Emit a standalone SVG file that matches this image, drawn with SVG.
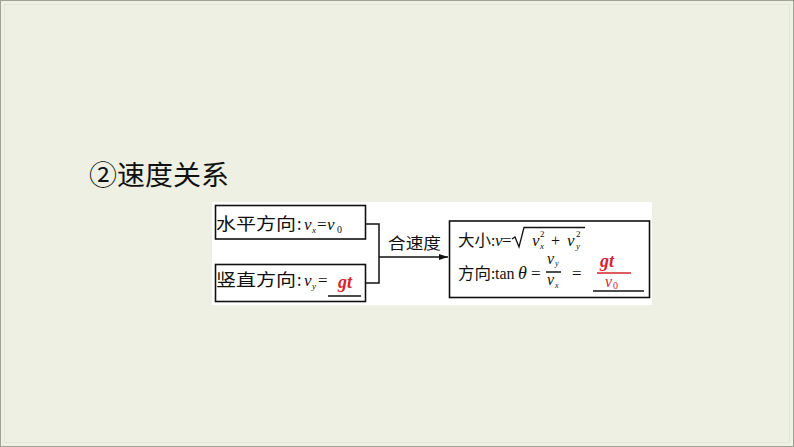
<svg xmlns="http://www.w3.org/2000/svg" width="794" height="447" viewBox="0 0 794 447">
<style>
.cn{font-family:"Noto Sans CJK SC","Noto Sans CJK JP",sans-serif;fill:#111;}
.m{font-family:"Liberation Serif","DejaVu Serif",serif;font-style:italic;fill:#111;}
.r{font-family:"Liberation Serif","DejaVu Serif",serif;fill:#111;}
.red{fill:#d9232d;}
.box{fill:#fff;stroke:#111;stroke-width:1.6;}
.ln{fill:none;stroke:#111;stroke-width:1.5;}
</style>
<defs>
<marker id="arr" markerWidth="10" markerHeight="8" refX="9" refY="4" orient="auto" markerUnits="userSpaceOnUse">
<path d="M0,1 L9,4 L0,7 Z" fill="#111"/>
</marker>
</defs>
<rect x="0" y="0" width="794" height="447" fill="#edf0e2"/>
<rect x="0.5" y="0.5" width="793" height="446" fill="none" stroke="#9ea395" stroke-width="1"/>
<rect x="4.5" y="4.5" width="785" height="438" fill="none" stroke="#e3e6d7" stroke-width="1"/>
<text class="cn" x="89" y="185" font-size="27" textLength="140" lengthAdjust="spacingAndGlyphs">②速度关系</text>
<rect x="212" y="202" width="440" height="103" fill="#fff"/>
<g id="connectors">
<path class="ln" d="M366 224 H379 V283 H366"/>
<path class="ln" d="M379 257 H448" marker-end="url(#arr)"/>
<text class="cn" x="388" y="249" font-size="16" textLength="53" lengthAdjust="spacingAndGlyphs">合速度</text>
</g>
<g id="node-horizontal">
<rect class="box" x="215.5" y="205.5" width="150" height="33.5"/>
<text class="cn" x="216" y="230" font-size="17" textLength="80" lengthAdjust="spacingAndGlyphs">水平方向</text>
<text class="cn" x="297" y="230" font-size="16">:</text>
<text class="m" x="304" y="230" font-size="17">v</text>
<text class="m" x="312" y="233" font-size="9">x</text>
<text class="r" x="317" y="230" font-size="17">=</text>
<text class="m" x="327" y="230" font-size="17">v</text>
<text class="r" x="337" y="233" font-size="10">0</text>
</g>
<g id="node-vertical">
<rect class="box" x="215.5" y="264.5" width="150" height="37"/>
<text class="cn" x="216" y="286" font-size="17" textLength="80" lengthAdjust="spacingAndGlyphs">竖直方向</text>
<text class="cn" x="297" y="286" font-size="16">:</text>
<text class="m" x="304" y="286" font-size="17">v</text>
<text class="m" x="312" y="289" font-size="9">y</text>
<text class="r" x="318" y="286" font-size="17">=</text>
<text class="m red" x="338" y="288" font-size="18" font-weight="bold">gt</text>
<path class="ln" d="M328 296 H361" stroke-width="1.4"/>
</g>
<g id="node-resultant">
<rect class="box" x="449.5" y="221" width="200" height="76.5"/>
<text class="cn" x="458" y="246" font-size="16" textLength="33" lengthAdjust="spacingAndGlyphs">大小</text>
<text class="cn" x="491" y="246" font-size="15">:</text>
<text class="m" x="495" y="246" font-size="17">v</text>
<text class="r" x="502" y="246" font-size="17">=</text>
<path d="M512 239 L515 237 L519 247 L524 227.5 H585" fill="none" stroke="#111" stroke-width="1.3"/>
<text class="m" x="532" y="246" font-size="17">v</text>
<text class="r" x="540" y="237" font-size="9">2</text>
<text class="m" x="540" y="249" font-size="9">x</text>
<text class="r" x="551" y="246" font-size="16">+</text>
<text class="m" x="567" y="246" font-size="17">v</text>
<text class="r" x="576" y="237" font-size="9">2</text>
<text class="m" x="576" y="249" font-size="9">y</text>
<text class="cn" x="458" y="279" font-size="16" textLength="33" lengthAdjust="spacingAndGlyphs">方向</text>
<text class="cn" x="491" y="279" font-size="15">:</text>
<text class="r" x="495" y="279" font-size="16">tan</text>
<text class="m" x="518" y="279" font-size="18">θ</text>
<text class="r" x="531" y="279" font-size="17">=</text>
<text class="m" x="547" y="264" font-size="16">v</text>
<text class="m" x="555" y="266" font-size="8">y</text>
<path class="ln" d="M546 272 H561" stroke-width="1"/>
<text class="m" x="547" y="285" font-size="16">v</text>
<text class="m" x="555" y="288" font-size="8">x</text>
<text class="r" x="572" y="279" font-size="17">=</text>
<text class="m red" x="600" y="267" font-size="18" font-weight="bold">gt</text>
<path d="M597 273 H631" stroke="#d9232d" stroke-width="1.3" fill="none"/>
<text class="m red" x="605" y="287" font-size="16">v</text>
<text class="red" x="613" y="289" font-size="10" font-family="Liberation Serif, serif">0</text>
<path class="ln" d="M593 291 H644" stroke-width="1.4"/>
</g>
</svg>
